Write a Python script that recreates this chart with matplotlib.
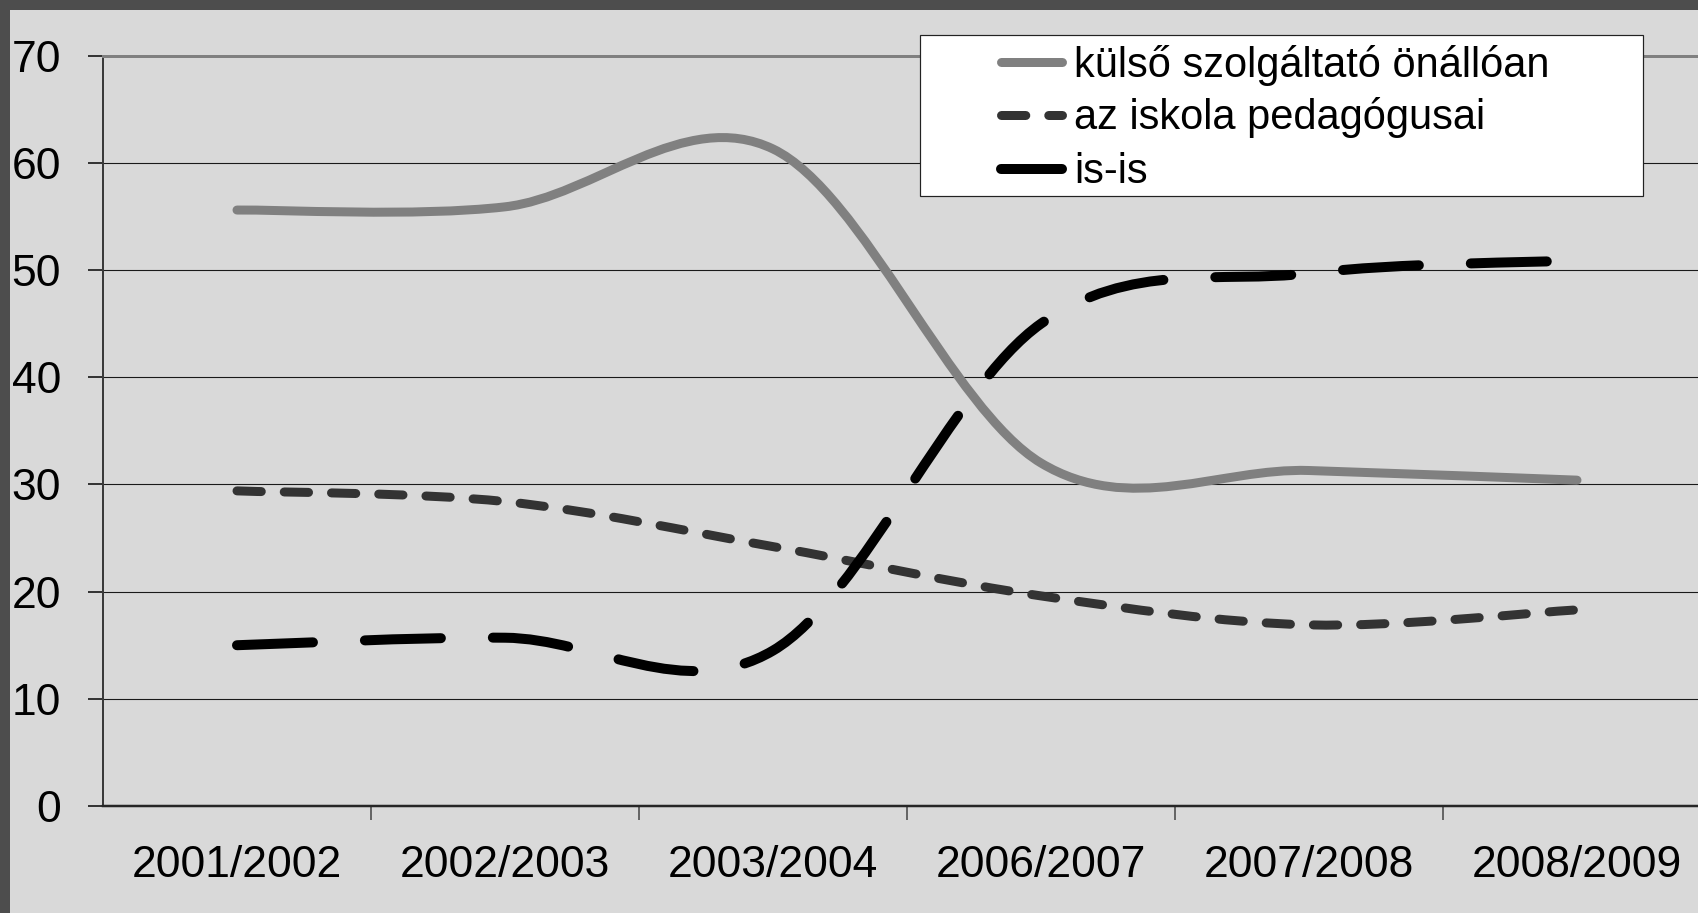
import numpy as np
import matplotlib
matplotlib.use("Agg")
import matplotlib.pyplot as plt
from matplotlib.path import Path
from matplotlib.patches import PathPatch, Rectangle
from matplotlib.lines import Line2D

# ------------------------------------------------------------
# data
# ------------------------------------------------------------
seasons = ["2001/2002", "2002/2003", "2003/2004", "2006/2007", "2007/2008", "2008/2009"]
kulso = [55.6, 55.9, 61.3, 32.0, 31.3, 30.4]
pedagogus = [29.4, 28.4, 24.2, 19.6, 16.9, 18.3]
isis = [15.0, 15.7, 14.5, 45.0, 49.7, 50.9]
labels = ["külső szolgáltató önállóan", "az iskola pedagógusai", "is-is"]
y_ticks = [0, 10, 20, 30, 40, 50, 60, 70]

W, H, DPI = 1698, 913, 100
PT = 72 / DPI  # points per pixel
BG = "#d9d9d9"
FONT = "Liberation Sans"


def smooth_path(xs, ys):
    """Excel-like smoothed line: Catmull-Rom segments as cubic Beziers."""
    pts = np.column_stack([xs, ys]).astype(float)
    n = len(pts)
    verts = [pts[0]]
    codes = [Path.MOVETO]
    for i in range(n - 1):
        p0 = pts[max(i - 1, 0)]
        p1 = pts[i]
        p2 = pts[i + 1]
        p3 = pts[min(i + 2, n - 1)]
        verts += [p1 + (p2 - p0) / 6, p2 - (p3 - p1) / 6, p2]
        codes += [Path.CURVE4] * 3
    return Path(verts, codes)


styles = [
    dict(color="#808080", lw=9 * PT, ls="-"),
    dict(color="#333333", lw=9 * PT, ls=(0, (2.7, 2.55))),
    dict(color="#000000", lw=10 * PT, ls=(0, (7.6, 5.2))),
]
series = [kulso, pedagogus, isis]

fig = plt.figure(figsize=(W / DPI, H / DPI), dpi=DPI, facecolor=BG)

# dark frame on the top and left edge
fig.add_artist(Rectangle((0, 1 - 10 / H), 1, 10 / H, transform=fig.transFigure,
                         facecolor="#4d4d4d", edgecolor="none"))
fig.add_artist(Rectangle((0, 0), 10 / W, 1, transform=fig.transFigure,
                         facecolor="#4d4d4d", edgecolor="none"))

left, right, top, bottom = 103, 1711, 55.7, 806
ax = fig.add_axes([left / W, (H - bottom) / H, (right - left) / W, (bottom - top) / H])
ax.set_facecolor(BG)
ax.set_xlim(-0.5, len(seasons) - 0.5)
ax.set_ylim(0, 70)

x = np.arange(len(seasons))
for vals, st in zip(series, styles):
    patch = PathPatch(smooth_path(x, vals), fill=False, edgecolor=st["color"],
                      linewidth=st["lw"], linestyle=st["ls"], capstyle="round",
                      joinstyle="round", zorder=3)
    ax.add_patch(patch)

# gridlines
for yv in y_ticks[1:-1]:
    ax.axhline(yv, color="#1a1a1a", lw=1.1 * PT, zorder=1)

ax.spines["right"].set_visible(False)
ax.spines["top"].set_color("#808080")
ax.spines["top"].set_linewidth(3 * PT)
ax.spines["left"].set_color("#3a3a3a")
ax.spines["left"].set_linewidth(2 * PT)
ax.spines["bottom"].set_color("#262626")
ax.spines["bottom"].set_linewidth(2.5 * PT)

ax.set_yticks(y_ticks)
ax.set_yticklabels([str(v) for v in y_ticks], fontsize=32, family=FONT)
ax.tick_params(axis="y", length=15 * PT, width=1.5 * PT, color="#000000",
               pad=27 * PT)

ax.set_xticks(np.arange(len(seasons) - 1) + 0.5)
ax.set_xticklabels([])
ax.tick_params(axis="x", which="major", length=14 * PT, width=1.5 * PT,
               color="#404040", direction="out")
ax.set_xticks(x, minor=True)
ax.set_xticklabels(seasons, minor=True, fontsize=32, family=FONT)
ax.tick_params(axis="x", which="minor", length=0, pad=39 * PT)

# legend box, drawn in figure pixel space
bx0, by0, bx1, by1 = 920, 35, 1643, 196
fig.add_artist(Rectangle((bx0 / W, 1 - by1 / H), (bx1 - bx0) / W, (by1 - by0) / H,
                         transform=fig.transFigure, facecolor="white",
                         edgecolor="#222222", linewidth=1.2 * PT, zorder=5))
row_y = [65, 118, 172]
for lab, st, ry in zip(labels, styles, row_y):
    fig.add_artist(Line2D([1001 / W, 1062 / W], [1 - (ry - 3) / H, 1 - (ry - 3) / H],
                          transform=fig.transFigure, color=st["color"],
                          linewidth=st["lw"], linestyle=st["ls"],
                          solid_capstyle="round", dash_capstyle="round", zorder=6))
    fig.text(1074 / W, 1 - ry / H, lab, fontsize=30, family=FONT,
             ha="left", va="center", zorder=7)

fig.savefig("out.png", dpi=DPI, facecolor=BG)
